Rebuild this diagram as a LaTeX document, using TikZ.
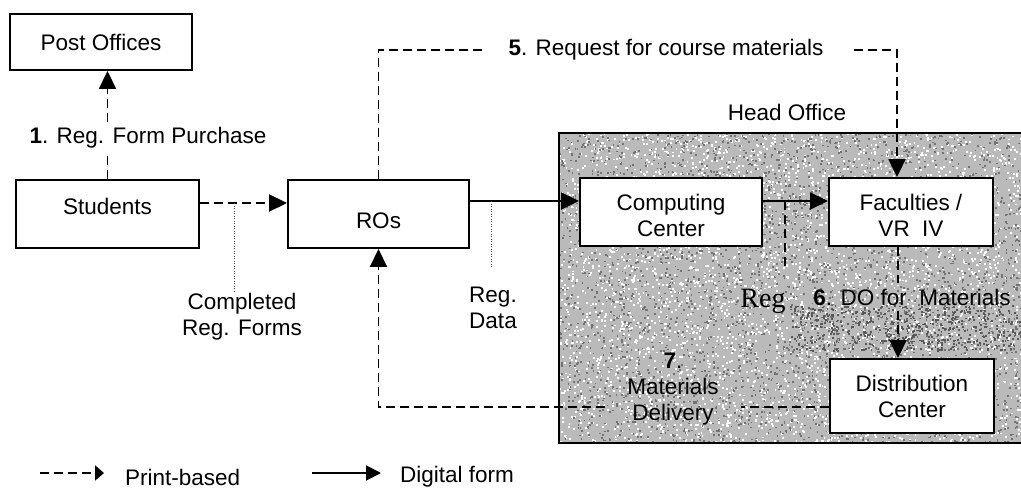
\documentclass[tikz,border=0pt]{standalone}
\usepackage{fontspec}
\setmainfont{Liberation Sans}
\newfontfamily\regserif{Liberation Serif}
\usetikzlibrary{arrows.meta}

\begin{document}
\begin{tikzpicture}[x=1pt,y=-1pt,
  txt/.style={font=\fontsize{22.5}{26}\selectfont, align=center, inner sep=0pt},
  box/.style={txt, draw, line width=1.9pt, fill=white},
  printline/.style={line width=1.9pt, dash pattern=on 9pt off 5pt},
  digital/.style={line width=1.9pt},
  tip/.style={-{Triangle[length=18pt,width=17pt]}},
  guide/.style={line width=1pt, black!75, dash pattern=on 1pt off 1.5pt},
]
\useasboundingbox (0,0) rectangle (1021,490);

% ---- Head Office area (grainy grey) ----
\begin{scope}
  \clip (559,133) rectangle (1021,443);
  \fill[black!27] (559,133) rectangle (1021,443);
  \pgfmathsetseed{7}
  \foreach \i in {1,...,4200}{
    \pgfmathsetmacro{\px}{559+462*rnd}
    \pgfmathsetmacro{\py}{133+310*rnd}
    \fill[white] (\px,\py) rectangle ++(1.9,1.9);
  }
  \foreach \i in {1,...,3600}{
    \pgfmathsetmacro{\px}{559+462*rnd}
    \pgfmathsetmacro{\py}{133+310*rnd}
    \fill[black!55] (\px,\py) rectangle ++(1.7,1.7);
  }
  % darker smudge below the DO label
  \foreach \i in {1,...,600}{
    \pgfmathsetmacro{\px}{790+231*rnd}
    \pgfmathsetmacro{\py}{305+45*rnd}
    \fill[black!65] (\px,\py) rectangle ++(1.8,1.8);
  }
\end{scope}
\draw[line width=1.9pt] (1021,133) -- (559,133) -- (559,443) -- (1021,443);
\node[txt] (holbl) at (787,112) {Head Office};

% ---- boxes ----
\node[box, minimum width=182pt, minimum height=56pt] (po) at (101,42) {Post Offices};
\node[box, minimum width=183pt, minimum height=68pt] (stu) at (107.5,214)
  {\raisebox{8pt}[\height][\depth]{Students}};
\node[box, minimum width=181pt, minimum height=68pt] (ro) at (378.5,214)
  {\raisebox{-7pt}[\height][\depth]{ROs}};
\node[box, minimum width=182pt, minimum height=68pt] (cc) at (671,212)
  {\raisebox{-3pt}[\height][\depth]{Computing}\\\raisebox{-3pt}[\height][\depth]{Center}};
\node[box, minimum width=164pt, minimum height=68pt] (fac) at (911,212)
  {\raisebox{-3pt}[\height][\depth]{Faculties /}\\\raisebox{-3pt}[\height][\depth]{VR\ \ IV}};
\node[box, minimum width=164pt, minimum height=74pt] (dc) at (912,396) {Distribution\\Center};

% ---- labels ----
\node[txt, inner sep=5pt] (l1) at (148,138) {\textbf{1}. Reg. Form Purchase};
\node[txt] (l5) at (666,50) {\textbf{5}. Request for course materials};
\node[txt, inner sep=6pt] (l6) at (912,297) {\textbf{6}. DO for\ \ Materials};
\node[txt, inner xsep=22pt] (l7) at (673,389) {\textbf{7}.\\Materials\\Delivery};
\node[txt] (lcf) at (242,317) {Completed\\Reg. Forms};
\node[txt] (lrd) at (493,308) {Reg.\\Data};
\node[font=\regserif\fontsize{28}{30}\selectfont, inner sep=0pt] (reg) at (763,301) {Reg};

% ---- 1: students to post offices ----
\draw[printline] (stu.north) -- (stu.north |- l1.south);
\draw[printline, tip] (stu.north |- l1.north) -- (stu.north |- po.south);

% ---- students to ROs ----
\coordinate (roin) at ([yshift=11pt]ro.west);
\draw[printline, tip] (roin -| stu.east) -- (roin);
\coordinate (cf) at (234,203);
\coordinate (cfend) at (234,292);
\draw[guide] (cf) -- (cfend);

% ---- ROs to computing center ----
\coordinate (ccin) at ([yshift=11pt]cc.west);
\draw[digital, tip] (ccin -| ro.east) -- (ccin);
\coordinate (rdtop) at (491,201);
\coordinate (rdend) at (491,267);
\draw[guide] (rdtop) -- (rdend);

% ---- computing center to faculties ----
\coordinate (facin) at ([yshift=11pt]fac.west);
\draw[digital, tip] (facin -| cc.east) -- (facin);
\coordinate (regtop) at (785,201);
\coordinate (regend) at (785,267);
\draw[printline] (regtop) -- (regend);

% ---- 5: request for course materials ----
\coordinate (f5) at ([xshift=-14pt]fac.north);
\draw[printline] (ro.north) |- ([xshift=-23pt]l5.west);
\draw[printline, tip] ([xshift=30pt]l5.east) -| (f5);

% ---- 6: DO for materials ----
\coordinate (f6) at ([xshift=-13pt]fac.south);
\coordinate (d6) at ([xshift=-14pt]dc.north);
\draw[printline] (f6) -- (f6 |- l6.north);
\draw[printline, tip] (d6 |- l6.south) -- (d6);

% ---- 7: materials delivery ----
\coordinate (m7) at ([yshift=-11pt]dc.west);
\draw[printline] (m7) -- (m7 -| l7.east);
\draw[printline, tip] (m7 -| l7.west) -| (ro.south);

% ---- legend ----
\coordinate (pa) at (40,473);
\coordinate (pb) at (104,473);
\draw[printline, -{Triangle[length=9pt,width=15pt]}] (pa) -- (pb);
\node[txt, anchor=base west] (lp) at (125,485) {Print-based};
\coordinate (da) at (312,473);
\coordinate (db) at (381,473);
\draw[digital, -{Triangle[length=15pt,width=15pt]}] (da) -- (db);
\node[txt, anchor=base west] (ld) at (400,482) {Digital form};
\end{tikzpicture}
\end{document}
